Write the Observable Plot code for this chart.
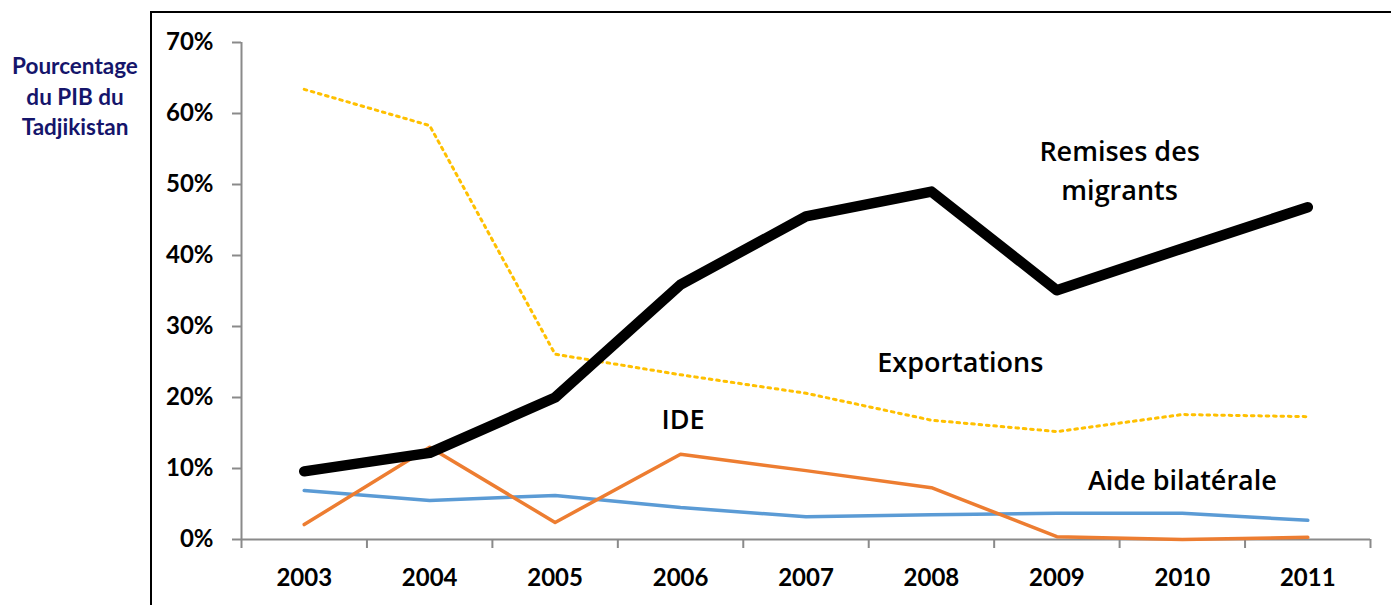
<!DOCTYPE html>
<html>
<head>
<meta charset="utf-8">
<script src="https://cdn.jsdelivr.net/npm/d3@7"></script>
<script src="https://cdn.jsdelivr.net/npm/@observablehq/plot@0.6"></script>
<style>
  html, body { margin: 0; padding: 0; background: #fff; }
  #wrap { position: relative; width: 1391px; height: 605px; overflow: hidden; }
  #frame { position: absolute; left: 150px; top: 11px; right: -10px; bottom: -10px;
           border-left: 2.5px solid #000; border-top: 2.5px solid #000; }
  #ytitle { position: absolute; left: 0px; top: 51px; width: 150px; text-align: center;
            font-family: Lato, sans-serif; font-weight: bold; font-size: 22.5px; line-height: 30.5px; color: #15156b; }
  #chart { position: absolute; left: 0; top: 0; }
</style>
</head>
<body>
<div id="wrap">
  <div id="frame"></div>
  <div id="ytitle">Pourcentage<br>du PIB du<br>Tadjikistan</div>
  <div id="chart"></div>
</div>
<script>
const years = [2003, 2004, 2005, 2006, 2007, 2008, 2009, 2010, 2011];
const remises = [0.096, 0.122, 0.200, 0.359, 0.455, 0.490, 0.351, 0.410, 0.468];
const exportations = [0.634, 0.583, 0.261, 0.232, 0.206, 0.168, 0.152, 0.176, 0.173];
const ide = [0.021, 0.130, 0.024, 0.120, 0.097, 0.073, 0.004, 0.000, 0.003];
const aide = [0.069, 0.055, 0.062, 0.045, 0.032, 0.035, 0.037, 0.037, 0.027];
const yTicks = [0, 0.1, 0.2, 0.3, 0.4, 0.5, 0.6, 0.7];
const labels = [
  {text: "Remises des\nmigrants", year: 2009.5, value: 0.523},
  {text: "Exportations", year: 2008.23, value: 0.2535},
  {text: "IDE", year: 2006.02, value: 0.173},
  {text: "Aide bilatérale", year: 2010.0, value: 0.087}
];

const table = (vals) => years.map((y, i) => ({year: y, value: vals[i]}));
const boundaries = years.map(y => y - 0.5).concat([years[years.length - 1] + 0.5]);
const grey = "#8a8a8a";

const chart = Plot.plot({
  width: 1391,
  height: 605,
  marginLeft: 241,
  marginRight: 21,
  marginTop: 42,
  marginBottom: 66,
  style: {fontFamily: "Lato, sans-serif", fontSize: "24px", fontWeight: "bold", color: "#000", background: "transparent"},
  x: {type: "linear", domain: [years[0] - 0.5, years[years.length - 1] + 0.5]},
  y: {domain: [0, 0.7]},
  marks: [
    Plot.ruleY([0], {stroke: grey, strokeWidth: 2}),
    Plot.ruleX([years[0] - 0.5], {stroke: grey, strokeWidth: 2}),
    Plot.axisY(yTicks, {tickSize: 9, tickPadding: 19, stroke: grey, strokeWidth: 2, fill: "#000",
      tickFormat: d3.format(".0%"), label: null}),
    Plot.axisX(boundaries, {tickSize: 9, stroke: grey, strokeWidth: 2, tickFormat: () => "", label: null}),
    Plot.axisX(years, {tickSize: 0, tickPadding: 29, fill: "#000", tickFormat: d => String(d), label: null}),
    Plot.line(table(aide), {x: "year", y: "value", stroke: "#5b9bd5", strokeWidth: 3.5}),
    Plot.line(table(ide), {x: "year", y: "value", stroke: "#ed7d31", strokeWidth: 3.5}),
    Plot.line(table(exportations), {x: "year", y: "value", stroke: "#ffc000", strokeWidth: 3, strokeDasharray: "2.6,4.8"}),
    Plot.line(table(remises), {x: "year", y: "value", stroke: "#000", strokeWidth: 10.5, strokeLinecap: "round", strokeLinejoin: "round"}),
    Plot.text(labels, {x: "year", y: "value", text: "text", fill: "#000", fontFamily: "'Open Sans', sans-serif",
      fontSize: 27, fontWeight: 600, lineHeight: 1.44})
  ]
});
document.getElementById("chart").appendChild(chart);
</script>
</body>
</html>
